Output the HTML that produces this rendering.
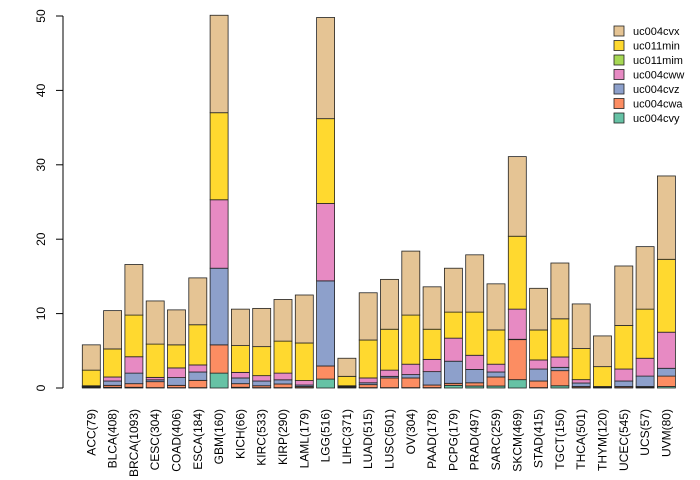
<!DOCTYPE html>
<html><head><meta charset="utf-8"><style>
body{margin:0;background:#fff}
svg{display:block;font-family:"Liberation Sans",sans-serif}
</style></head><body>
<svg id="chart" width="700" height="480" viewBox="0 0 700 480" xmlns="http://www.w3.org/2000/svg"></svg>
<script>
const categories=["ACC(79)","BLCA(408)","BRCA(1093)","CESC(304)","COAD(406)","ESCA(184)","GBM(160)","KICH(66)","KIRC(533)","KIRP(290)","LAML(179)","LGG(516)","LIHC(371)","LUAD(515)","LUSC(501)","OV(304)","PAAD(178)","PCPG(179)","PRAD(497)","SARC(259)","SKCM(469)","STAD(415)","TGCT(150)","THCA(501)","THYM(120)","UCEC(545)","UCS(57)","UVM(80)"];
const seriesNames=["uc004cvy","uc004cwa","uc004cvz","uc004cww","uc011mim","uc011min","uc004cvx"];
const uc004cvy=[0,.1,.1,.05,.05,.05,2.0,.1,.05,.05,.05,1.2,.1,.05,.05,.05,.05,.36,.27,.27,1.12,.05,.3,.05,.05,.05,.1,.2];
const uc004cwa=[.1,.26,.48,.8,.31,.98,3.8,.48,.25,.49,.15,1.76,.1,.4,1.3,1.3,.35,.27,.43,1.21,5.38,.89,2.03,.15,.05,.15,.1,1.4];
const uc004cvz=[.05,.58,1.42,.25,1.04,1.12,10.3,.77,.64,.56,.2,11.44,.05,.25,.22,.45,1.8,2.97,1.8,.67,.05,1.61,.45,.47,.05,.74,1.4,1.05];
const uc004cww=[.05,.54,2.2,.33,1.3,.95,9.2,.75,.72,.9,.6,10.4,.05,.65,.83,1.4,1.65,3.1,1.9,1.05,4.05,1.22,1.39,.45,.05,1.61,2.4,4.85];
const uc011mim=[.1,0,0,0,0,0,0,0,0,0,0,0,0,0,0,0,0,0,0,0,0,0,0,0,0,0,0,0];
const uc011min=[2.1,3.77,5.6,4.47,3.1,5.4,11.7,3.6,3.9,4.3,5.05,11.4,1.27,5.1,5.5,6.6,4.05,3.5,5.8,4.6,9.8,4.03,5.13,4.18,2.67,5.85,6.6,9.8];
const uc004cvx=[3.4,5.15,6.8,5.8,4.7,6.3,13.1,4.9,5.14,5.6,6.45,13.6,2.43,6.35,6.7,8.6,5.7,5.9,7.7,6.2,10.7,5.6,7.5,6.0,4.13,8.0,8.4,11.2];
const yTicks=[0,10,20,30,40,50];
const series=[uc004cvy,uc004cwa,uc004cvz,uc004cww,uc011mim,uc011min,uc004cvx];
const colors=["#66c2a5","#fc8d62","#8da0cb","#e78ac3","#a6d854","#ffd92f","#e5c494"];
const NS="http://www.w3.org/2000/svg";
const svg=document.getElementById('chart');
const y=v=>388-v*(372/50);
const x=i=>82.3+i*21.3;
const bw=18;
function mk(t,a){const e=document.createElementNS(NS,t);for(const k in a)e.setAttribute(k,a[k]);svg.appendChild(e);return e;}
categories.forEach((c,i)=>{
  let cum=0;
  series.forEach((s,si)=>{
    const v=s[i];
    const r=mk('rect',{x:x(i),y:y(cum+v),width:bw,height:Math.max(0,y(cum)-y(cum+v)),fill:colors[si],stroke:'#222','stroke-width':0.8});
    
    
    cum+=v;
  });
  const tx=x(i)+bw/2+4;
  const t=mk('text',{x:tx,y:409,'font-size':12,fill:'#000',transform:`rotate(-90 ${tx} 409)`,'text-anchor':'end'});
  t.textContent=c;
  
  
});
const ax=mk('line',{x1:63,y1:y(0),x2:63,y2:y(50),stroke:'#000','stroke-width':1});


yTicks.forEach(v=>{
  const l=mk('line',{x1:56,y1:y(v),x2:63,y2:y(v),stroke:'#000'});
  
  
  const t=mk('text',{x:45,y:y(v),'font-size':12,'text-anchor':'middle',transform:`rotate(-90 45 ${y(v)})`});
  t.textContent=v;
  
  
});
for(let k=0;k<7;k++){
  const si=6-k; const ly=31+k*14.5;
  const r=mk('rect',{x:614,y:ly-5,width:10,height:10,fill:colors[si],stroke:'#222','stroke-width':0.8});
  
  
  const t=mk('text',{x:633,y:ly+4,'font-size':11});
  t.textContent=seriesNames[si];
  
  
}
</script>
</body></html>
